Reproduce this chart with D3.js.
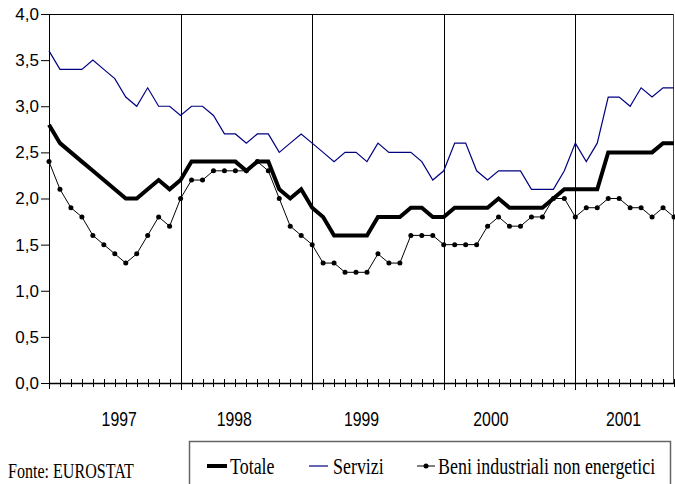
<!DOCTYPE html>
<meta charset="utf-8">
<style>

body {
  margin: 0;
  background: #fff;
}

svg {
  display: block;
}

.y.axis text {
  font-family: "Liberation Sans", Arial, sans-serif;
  font-size: 17px;
  fill: #000;
}

.y.axis line {
  stroke: #000;
}

path.line {
  fill: none;
}

</style>

<body>
<div id="chart"></div>
</body>

<script src="https://d3js.org/d3.v7.min.js"></script>
<script>

// monthly values, Jan 1997 - Oct 2001
var years = ["1997", "1998", "1999", "2000", "2001"];

var totale = [
  2.8, 2.6, 2.5, 2.4, 2.3, 2.2, 2.1, 2.0, 2.0, 2.1, 2.2, 2.1,
  2.2, 2.4, 2.4, 2.4, 2.4, 2.4, 2.3, 2.4, 2.4, 2.1, 2.0, 2.1,
  1.9, 1.8, 1.6, 1.6, 1.6, 1.6, 1.8, 1.8, 1.8, 1.9, 1.9, 1.8,
  1.8, 1.9, 1.9, 1.9, 1.9, 2.0, 1.9, 1.9, 1.9, 1.9, 2.0, 2.1,
  2.1, 2.1, 2.1, 2.5, 2.5, 2.5, 2.5, 2.5, 2.6, 2.6
];

var servizi = [
  3.6, 3.4, 3.4, 3.4, 3.5, 3.4, 3.3, 3.1, 3.0, 3.2, 3.0, 3.0,
  2.9, 3.0, 3.0, 2.9, 2.7, 2.7, 2.6, 2.7, 2.7, 2.5, 2.6, 2.7,
  2.6, 2.5, 2.4, 2.5, 2.5, 2.4, 2.6, 2.5, 2.5, 2.5, 2.4, 2.2,
  2.3, 2.6, 2.6, 2.3, 2.2, 2.3, 2.3, 2.3, 2.1, 2.1, 2.1, 2.3,
  2.6, 2.4, 2.6, 3.1, 3.1, 3.0, 3.2, 3.1, 3.2, 3.2
];

var beni = [
  2.4, 2.1, 1.9, 1.8, 1.6, 1.5, 1.4, 1.3, 1.4, 1.6, 1.8, 1.7,
  2.0, 2.2, 2.2, 2.3, 2.3, 2.3, 2.3, 2.4, 2.3, 2.0, 1.7, 1.6,
  1.5, 1.3, 1.3, 1.2, 1.2, 1.2, 1.4, 1.3, 1.3, 1.6, 1.6, 1.6,
  1.5, 1.5, 1.5, 1.5, 1.7, 1.8, 1.7, 1.7, 1.8, 1.8, 2.0, 2.0,
  1.8, 1.9, 1.9, 2.0, 2.0, 1.9, 1.9, 1.8, 1.9, 1.8
];

var yTicks = [0, 0.5, 1, 1.5, 2, 2.5, 3, 3.5, 4];

var seriesNames = ["Totale", "Servizi", "Beni industriali non energetici"];

var width = 675,
    height = 484;

var svg = d3.select("#chart").append("svg")
    .attr("width", width)
    .attr("height", height);

var x = d3.scaleLinear().domain([0, totale.length - 1]).range([49, 674]),
    y = d3.scaleLinear().domain([0, 4]).range([383, 14]);

// y axis, comma decimals
var yAxis = d3.axisLeft(y)
    .tickValues(yTicks)
    .tickSize(8)
    .tickSizeOuter(0)
    .tickPadding(2)
    .tickFormat(function(d) { return d3.format(".1f")(d).replace(".", ","); });

var gy = svg.append("g")
    .attr("class", "y axis")
    .attr("transform", "translate(" + x(0) + ",0)")
    .call(yAxis);
gy.select(".domain").remove();

// frame: left axis (runs a bit below the x axis), top and right border, x axis
var frame = svg.append("g").attr("stroke", "#000").attr("stroke-width", 1);
frame.append("line")
    .attr("x1", x(0) + 0.5).attr("x2", x(0) + 0.5)
    .attr("y1", y(4)).attr("y2", y(0) + 6);
frame.append("line")
    .attr("x1", x(0)).attr("x2", x(totale.length - 1))
    .attr("y1", y(4) + 0.5).attr("y2", y(4) + 0.5);
frame.append("line")
    .attr("x1", x(totale.length - 1) - 0.5).attr("x2", x(totale.length - 1) - 0.5)
    .attr("y1", y(4)).attr("y2", y(0))
    .attr("stroke", "#444");
frame.append("line")
    .attr("x1", x(0)).attr("x2", x(totale.length - 1))
    .attr("y1", y(0) + 0.5).attr("y2", y(0) + 0.5)
    .attr("stroke-width", 1.5);

// month ticks crossing the x axis
frame.selectAll(".mtick")
    .data(d3.range(1, totale.length))
  .enter().append("line")
    .attr("class", "mtick")
    .attr("x1", function(d) { return Math.round(x(d)) + 0.5; })
    .attr("x2", function(d) { return Math.round(x(d)) + 0.5; })
    .attr("y1", y(0) - 4)
    .attr("y2", y(0) + 4);

// year separators
frame.selectAll(".ysep")
    .data(d3.range(12, totale.length, 12))
  .enter().append("line")
    .attr("class", "ysep")
    .attr("x1", function(d) { return Math.round(x(d)) + 0.5; })
    .attr("x2", function(d) { return Math.round(x(d)) + 0.5; })
    .attr("y1", y(4))
    .attr("y2", y(0) + 7);

// year labels (placed where the original puts them, in month units)
var yearLabelMonth = [6.4, 16.9, 28.5, 40.3, 52.4];
svg.append("g").selectAll("text")
    .data(years)
  .enter().append("text")
    .attr("transform", function(d, i) { return "translate(" + x(yearLabelMonth[i]) + ",426) scale(0.79,1)"; })
    .attr("text-anchor", "middle")
    .style("font-family", "'Liberation Sans', Arial, sans-serif")
    .style("font-size", "20px")
    .text(function(d) { return d; });

var line = d3.line()
    .x(function(d, i) { return x(i); })
    .y(function(d) { return y(d); });

svg.append("path")
    .datum(totale)
    .attr("class", "line")
    .attr("stroke", "#000")
    .attr("stroke-width", 4)
    .attr("d", line);

svg.append("path")
    .datum(servizi)
    .attr("class", "line")
    .attr("stroke", "#000080")
    .attr("stroke-width", 1.2)
    .attr("d", line);

svg.append("path")
    .datum(beni)
    .attr("class", "line")
    .attr("stroke", "#000")
    .attr("stroke-width", 1)
    .attr("d", line);

svg.append("g").selectAll("circle")
    .data(beni)
  .enter().append("circle")
    .attr("cx", function(d, i) { return x(i); })
    .attr("cy", function(d) { return y(d); })
    .attr("r", 2.5)
    .attr("fill", "#000");

// legend
var legend = svg.append("g");
legend.append("rect")
    .attr("x", 189.5)
    .attr("y", 441.5)
    .attr("width", 481)
    .attr("height", 70)
    .attr("fill", "#fff")
    .attr("stroke", "#666")
    .attr("stroke-width", 1.5);

var legendItems = [
  {x0: 207, x1: 227, tx: 230, color: "#000", w: 4, dot: false},
  {x0: 309, x1: 328, tx: 333, color: "#000080", w: 1.2, dot: false},
  {x0: 417, x1: 435, tx: 438, color: "#000", w: 1, dot: true}
];

var li = legend.selectAll(".item")
    .data(legendItems)
  .enter().append("g")
    .attr("class", "item");

li.append("line")
    .attr("x1", function(d) { return d.x0; })
    .attr("x2", function(d) { return d.x1; })
    .attr("y1", 466)
    .attr("y2", 466)
    .attr("stroke", function(d) { return d.color; })
    .attr("stroke-width", function(d) { return d.w; });

li.filter(function(d) { return d.dot; }).append("circle")
    .attr("cx", function(d) { return (d.x0 + d.x1) / 2; })
    .attr("cy", 466)
    .attr("r", 2.5)
    .attr("fill", "#000");

li.append("text")
    .attr("transform", function(d) { return "translate(" + d.tx + ",474) scale(0.78,1)"; })
    .style("font-family", "'Liberation Serif', 'Times New Roman', serif")
    .style("font-size", "23px")
    .text(function(d, i) { return seriesNames[i]; });

svg.append("text")
    .attr("transform", "translate(8,478) scale(0.73,1)")
    .style("font-family", "'Liberation Serif', 'Times New Roman', serif")
    .style("font-size", "22px")
    .text("Fonte: EUROSTAT");

</script>
